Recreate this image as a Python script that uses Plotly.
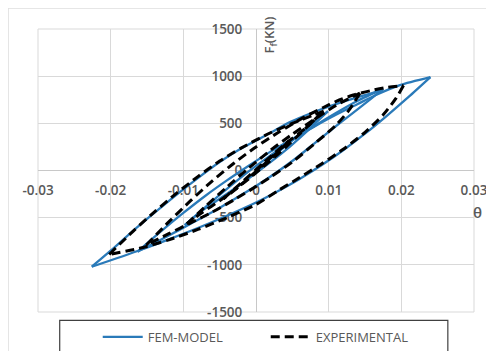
import plotly.graph_objects as go

# ---------------- data (theta in rad, force in kN) ----------------
x_ticks = [-0.03, -0.02, -0.01, 0, 0.01, 0.02, 0.03]
x_tick_text = ["-0.03", "-0.02", "-0.01", "0", "0.01", "0.02", "0.03"]
y_ticks = [-1500, -1000, -500, 0, 500, 1000, 1500]
y_tick_text = ["-1500", "-1000", "-500", "0", "500", "1000", "1500"]

# FEM-MODEL branches
fem_init_theta = [0, 0.003, 0.006, 0.0099]
fem_init_force = [0, 190, 385, 628]
fem_small_down_theta = [0.0099, 0.007, 0.004, 0.001, -0.002, -0.005, -0.0075, -0.0098]
fem_small_down_force = [628, 415, 210, 30, -140, -300, -430, -578]
fem_small_up_theta = [-0.0098, -0.007, -0.004, -0.001, 0.002, 0.005, 0.008, 0.011, 0.014, 0.0175]
fem_small_up_force = [-578, -390, -195, -10, 160, 320, 470, 610, 740, 865]
fem_mid_down_theta = [0.0175, 0.0155, 0.013, 0.0105, 0.008, 0.0055, 0.003, 0, -0.003, -0.006, -0.009, -0.012, -0.0163]
fem_mid_down_force = [865, 740, 590, 440, 285, 130, -10, -165, -305, -440, -565, -690, -860]
fem_mid_up_theta = [-0.0163, -0.013, -0.01, -0.007, -0.004, -0.001, 0.002, 0.005, 0.008, 0.011, 0.014, 0.0165, 0.0198, 0.024]
fem_mid_up_force = [-860, -640, -450, -270, -105, 50, 200, 335, 465, 590, 705, 800, 905, 990]
fem_big_down_theta = [0.024, 0.021, 0.018, 0.015, 0.012, 0.009, 0.006, 0.003, 0, -0.004, -0.008, -0.012, -0.016, -0.0226]
fem_big_down_force = [990, 780, 580, 390, 215, 55, -90, -220, -340, -480, -610, -730, -845, -1020]
fem_big_up_theta = [-0.0226, -0.02, -0.017, -0.014, -0.011, -0.008, -0.005, -0.002, 0.002, 0.0046, 0.008, 0.012, 0.0155, 0.0175]
fem_big_up_force = [-1020, -850, -645, -450, -260, -80, 90, 235, 400, 510, 620, 730, 810, 855]

# EXPERIMENTAL branches
exp_init_theta = [0, 0.0025, 0.0045]
exp_init_force = [0, 170, 310]
exp_tiny_down_theta = [0.0045, 0.0025, 0, -0.0025, -0.0045]
exp_tiny_down_force = [310, 160, -10, -180, -300]
exp_tiny_up_theta = [-0.0045, -0.002, 0.001, 0.004, 0.007, 0.009]
exp_tiny_up_force = [-300, -130, 80, 280, 460, 610]
exp_small_down_theta = [0.009, 0.007, 0.004, 0.001, -0.002, -0.005, -0.0075, -0.0095]
exp_small_down_force = [610, 460, 240, 40, -150, -320, -450, -565]
exp_small_up_theta = [-0.0095, -0.007, -0.004, -0.001, 0.002, 0.005, 0.008, 0.011, 0.0143]
exp_small_up_force = [-565, -385, -175, 25, 215, 385, 540, 690, 820]
exp_mid_down_theta = [0.0143, 0.0128, 0.011, 0.008, 0.005, 0.002, 0, -0.003, -0.006, -0.009, -0.012, -0.0151]
exp_mid_down_force = [820, 640, 480, 280, 90, -70, -170, -310, -440, -555, -670, -790]
exp_mid_up_theta = [-0.0151, -0.012, -0.009, -0.006, -0.003, 0, 0.003, 0.0065, 0.0092, 0.0111, 0.0134, 0.0157, 0.018, 0.0203]
exp_mid_up_force = [-790, -545, -320, -110, 80, 250, 400, 560, 665, 735, 800, 845, 880, 900]
exp_big_down_theta = [0.0203, 0.0193, 0.0175, 0.015, 0.012, 0.009, 0.006, 0.003, 0, -0.004, -0.008, -0.012, -0.016, -0.0202]
exp_big_down_force = [900, 770, 590, 405, 225, 70, -75, -215, -360, -500, -625, -735, -825, -890]
exp_big_up_theta = [-0.0202, -0.017, -0.014, -0.011, -0.008, -0.005, -0.002, 0.002, 0.005, 0.008, 0.01]
exp_big_up_force = [-890, -650, -440, -245, -65, 100, 240, 400, 500, 590, 650]

fem_branches = [
    (fem_init_theta, fem_init_force),
    (fem_small_down_theta, fem_small_down_force),
    (fem_small_up_theta, fem_small_up_force),
    (fem_mid_down_theta, fem_mid_down_force),
    (fem_mid_up_theta, fem_mid_up_force),
    (fem_big_down_theta, fem_big_down_force),
    (fem_big_up_theta, fem_big_up_force),
]
exp_branches = [
    (exp_init_theta, exp_init_force),
    (exp_tiny_down_theta, exp_tiny_down_force),
    (exp_tiny_up_theta, exp_tiny_up_force),
    (exp_small_down_theta, exp_small_down_force),
    (exp_small_up_theta, exp_small_up_force),
    (exp_mid_down_theta, exp_mid_down_force),
    (exp_mid_up_theta, exp_mid_up_force),
    (exp_big_down_theta, exp_big_down_force),
    (exp_big_up_theta, exp_big_up_force),
]

BLUE = "#2a7ab9"
GRAY_TXT = "#595959"

fig = go.Figure()
for i, (tx, fy) in enumerate(fem_branches):
    fig.add_trace(go.Scatter(
        x=tx, y=fy, mode="lines", name="FEM-MODEL", legendgroup="fem",
        showlegend=(i == 0),
        line=dict(color=BLUE, width=2.3, shape="spline", smoothing=0.7),
    ))
for i, (tx, fy) in enumerate(exp_branches):
    fig.add_trace(go.Scatter(
        x=tx, y=fy, mode="lines", name="EXPERIMENTAL", legendgroup="exp",
        showlegend=(i == 0),
        line=dict(color="black", width=3, dash="9px,5px", shape="spline", smoothing=0.7),
    ))

tickfont = dict(family="Open Sans", size=13.5, color=GRAY_TXT, weight=600)

# The page body adds an 8px offset, so the figure is 8px smaller than the window.
fig.update_layout(
    width=486, height=343,
    margin=dict(l=30, r=20, t=21, b=39, autoexpand=False),
    paper_bgcolor="white", plot_bgcolor="white",
    showlegend=True,
    legend=dict(orientation="h", x=0.137, xanchor="left", y=-0.035, yanchor="top",
                font=dict(family="Open Sans", size=13, color=GRAY_TXT),
                itemwidth=40, entrywidth=113, bgcolor="rgba(0,0,0,0)", borderwidth=0),
    xaxis=dict(range=[-0.03, 0.03], tickvals=x_ticks, ticktext=x_tick_text,
               showgrid=True, gridcolor="#d9d9d9", gridwidth=1,
               zeroline=True, zerolinecolor="#c8c8c8", zerolinewidth=1,
               anchor="free", position=0.5, ticks="outside", ticklen=7,
               tickcolor="rgba(0,0,0,0)", tickfont=tickfont, layer="below traces",
               showline=False, automargin=False),
    yaxis=dict(range=[-1500, 1500], tickvals=y_ticks, ticktext=y_tick_text,
               showgrid=True, gridcolor="#d9d9d9", gridwidth=1,
               zeroline=True, zerolinecolor="#c8c8c8", zerolinewidth=1,
               anchor="free", position=0.5, ticks="outside", ticklen=11,
               tickcolor="rgba(0,0,0,0)", tickfont=tickfont, layer="below traces",
               showline=False, automargin=False),
    shapes=[
        dict(type="rect", xref="paper", yref="paper", x0=0, x1=1, y0=0, y1=1,
             line=dict(color="#d9d9d9", width=1), layer="below"),
        dict(type="rect", xref="paper", yref="paper", x0=-0.0684, x1=1.2, y0=-0.3, y1=1.0737,
             line=dict(color="#d9d9d9", width=1), layer="below"),
        dict(type="rect", xref="paper", yref="paper", x0=0.0498, x1=0.940, y0=-0.3, y1=-0.0294,
             line=dict(color="#404040", width=1.2)),
    ],
    annotations=[
        dict(x=0.0019, y=1440, xref="x", yref="y", text="F<sub>f</sub>(KN)", textangle=-90,
             showarrow=False, font=dict(family="Open Sans", size=13, color=GRAY_TXT, weight=600),
             xanchor="center", yanchor="middle"),
        dict(x=1.0069, y=0.355, xref="paper", yref="paper", text="θ", showarrow=False,
             font=dict(family="Open Sans", size=15, color=GRAY_TXT, weight=600),
             xanchor="center", yanchor="middle"),
    ],
)

fig.write_html("out.html")
